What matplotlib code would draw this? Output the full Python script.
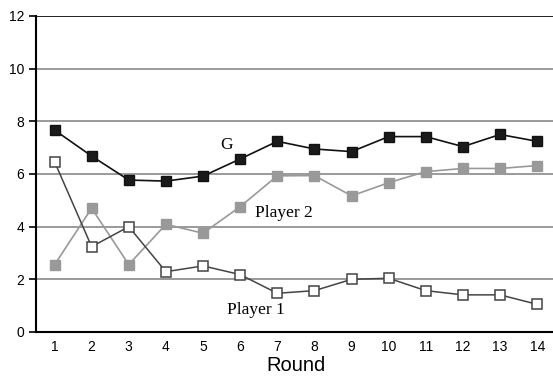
import numpy as np
from matplotlib import pyplot as plt

rounds = np.arange(1, 15)
g_vals = [7.67, 6.68, 5.77, 5.73, 5.92, 6.57, 7.24, 6.95, 6.85, 7.42, 7.42, 7.04, 7.50, 7.24]
p2_vals = [2.55, 4.70, 2.56, 4.09, 3.75, 4.76, 5.93, 5.94, 5.17, 5.67, 6.09, 6.21, 6.21, 6.32]
p1_vals = [6.47, 3.24, 4.00, 2.29, 2.51, 2.18, 1.47, 1.57, 2.00, 2.04, 1.57, 1.41, 1.41, 1.05]

fig = plt.figure(figsize=(5.53, 3.78), dpi=100)
ax = fig.add_axes([0.065, 0.1217, 0.94, 0.836])

for yv in [2, 4, 6, 8, 10]:
    ax.axhline(yv, color="#9a9a9a", lw=1.4, zorder=1)
ax.axhline(12, color="#222222", lw=1.4, zorder=1)

ax.plot(rounds, p2_vals, color="#999999", lw=1.2, marker="s", ms=7,
        mfc="#999999", mec="#999999", zorder=3)
ax.plot(rounds, p1_vals, color="#444444", lw=1.1, marker="s", ms=7,
        mfc="white", mec="#444444", mew=1.1, zorder=4)
ax.plot(rounds, g_vals, color="#111111", lw=1.2, marker="s", ms=7,
        mfc="#1a1a1a", mec="#111111", zorder=5)

serif = "Liberation Serif"
ax.text(5.64, 7.1, "G", family=serif, fontsize=12.5, ha="center", va="center")
ax.text(7.18, 4.53, "Player 2", family=serif, fontsize=12.5, ha="center", va="center")
ax.text(6.41, 0.84, "Player 1", family=serif, fontsize=12.5, ha="center", va="center")

ax.set_xlim(0.5, 14.5)
ax.set_ylim(0, 12)
ax.set_yticks(range(0, 13, 2))
ax.set_xticks(rounds)
for s in ["top", "right"]:
    ax.spines[s].set_visible(False)
ax.spines["left"].set_linewidth(1.5)
ax.spines["bottom"].set_linewidth(1.5)
ax.tick_params(axis="y", length=5, width=1.2, labelsize=10)
ax.tick_params(axis="x", length=0, labelsize=10, pad=6)
for lab in ax.get_xticklabels() + ax.get_yticklabels():
    lab.set_family("Liberation Sans")
ax.set_xlabel("Round", family="Liberation Sans", fontsize=14.5, labelpad=1)

fig.savefig("out.png", dpi=100)
